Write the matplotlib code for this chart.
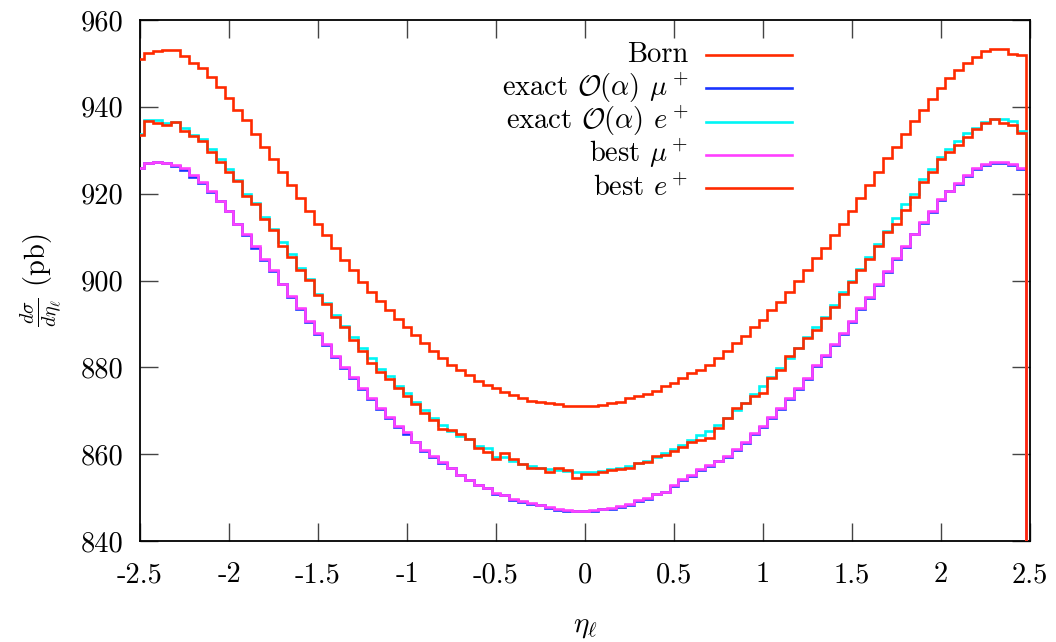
import numpy as np
import matplotlib
matplotlib.use("Agg")
import matplotlib.pyplot as plt

plt.rcParams['font.family'] = 'serif'
plt.rcParams['font.serif'] = ['cmr10']
plt.rcParams['mathtext.fontset'] = 'cm'
plt.rcParams['axes.formatter.use_mathtext'] = True
plt.rcParams['axes.unicode_minus'] = False

# bin positions in eta_l (histogram steps, width 0.05)
eta = np.round(-2.5 + 0.05 * np.arange(100), 3)

born = [951.1, 952.5, 952.8, 953.2, 953.0, 951.8, 950.1, 949.0, 946.8, 944.6,
        942.1, 939.2, 936.9, 933.8, 930.8, 928.0, 925.0, 922.1, 919.0, 916.1,
        913.1, 910.5, 907.6, 904.7, 902.5, 899.7, 897.3, 895.3, 893.2, 891.1,
        889.3, 887.5, 885.5, 883.8, 882.1, 880.6, 879.4, 878.2, 876.9, 875.9,
        875.3, 874.3, 873.6, 872.9, 872.3, 872.1, 871.9, 871.6, 871.2, 871.1,
        871.1, 871.1, 871.3, 871.7, 872.1, 872.9, 873.3, 873.9, 874.6, 875.6,
        876.5, 877.5, 878.6, 879.4, 880.6, 882.1, 883.8, 885.5, 887.3, 889.2,
        890.9, 893.1, 895.1, 897.4, 900.0, 902.4, 905.1, 907.5, 910.5, 912.9,
        916.1, 919.1, 922.1, 924.9, 928.1, 930.8, 933.7, 936.7, 939.2, 941.8,
        944.4, 946.7, 948.4, 950.1, 951.5, 952.8, 953.3, 953.3, 952.1, 951.9]

exact_mu = [925.8, 927.0, 927.3, 927.0, 926.4, 925.5, 923.9, 922.4, 920.4, 918.2,
            915.9, 912.9, 910.4, 907.6, 904.8, 902.2, 899.1, 896.2, 893.4, 890.5,
            887.7, 885.2, 882.3, 879.9, 877.5, 875.0, 872.6, 870.5, 868.3, 866.2,
            864.7, 862.7, 860.8, 859.3, 857.9, 856.7, 855.1, 854.0, 852.9, 852.1,
            850.8, 850.5, 849.5, 849.0, 848.6, 848.2, 847.6, 847.2, 847.0, 846.9,
            846.9, 847.0, 847.3, 847.4, 847.9, 848.4, 849.3, 849.6, 850.8, 851.2,
            852.7, 854.0, 855.0, 856.3, 857.3, 858.4, 859.4, 861.0, 862.6, 864.6,
            866.3, 868.4, 870.4, 872.6, 875.0, 877.3, 880.2, 882.6, 885.2, 887.7,
            890.5, 893.4, 896.0, 898.9, 901.9, 904.9, 907.7, 910.6, 913.3, 915.8,
            918.5, 920.5, 922.2, 924.1, 925.6, 926.6, 927.1, 927.0, 926.5, 925.7]

exact_e = [933.8, 937.0, 936.9, 936.3, 936.6, 935.2, 933.5, 932.6, 930.2, 928.0,
           925.7, 923.2, 920.0, 917.9, 914.7, 911.9, 908.8, 906.0, 902.9, 900.4,
           897.0, 894.9, 892.0, 889.5, 886.9, 884.4, 882.1, 879.6, 877.9, 875.7,
           874.0, 872.0, 870.2, 868.3, 866.7, 865.3, 864.2, 863.4, 861.9, 861.4,
           859.4, 859.4, 858.4, 857.7, 857.3, 856.9, 856.5, 856.4, 856.1, 856.0,
           856.0, 856.0, 856.2, 856.5, 856.9, 857.3, 857.9, 858.4, 859.4, 860.2,
           861.2, 862.0, 863.2, 864.3, 865.4, 866.7, 868.4, 870.2, 871.9, 873.8,
           875.8, 877.8, 879.9, 882.2, 884.5, 886.9, 889.2, 891.7, 894.4, 897.3,
           900.0, 902.6, 905.4, 908.5, 911.5, 914.5, 917.7, 920.0, 923.4, 925.6,
           928.4, 930.3, 932.2, 933.9, 935.2, 936.5, 937.2, 937.3, 936.7, 934.4]

best_mu = [925.8, 927.0, 927.4, 927.1, 926.6, 925.8, 924.2, 922.6, 920.7, 918.4,
           916.1, 913.1, 910.6, 907.9, 905.0, 902.4, 899.3, 896.4, 893.7, 890.7,
           888.0, 885.4, 882.6, 880.1, 877.7, 875.2, 872.9, 870.6, 868.5, 866.5,
           865.0, 862.9, 861.0, 859.6, 858.1, 856.8, 855.2, 854.1, 852.9, 852.3,
           851.0, 850.6, 849.6, 849.1, 848.7, 848.3, 847.8, 847.3, 847.2, 847.0,
           847.0, 847.2, 847.4, 847.6, 848.0, 848.6, 849.4, 849.8, 850.9, 851.4,
           852.9, 854.2, 855.2, 856.5, 857.5, 858.5, 859.6, 861.2, 862.9, 864.8,
           866.5, 868.6, 870.6, 872.9, 875.2, 877.5, 880.5, 882.8, 885.4, 888.0,
           890.7, 893.6, 896.3, 899.1, 902.2, 905.1, 907.9, 910.8, 913.5, 916.1,
           918.7, 920.7, 922.5, 924.3, 925.8, 926.8, 927.2, 927.3, 926.8, 925.8]

best_e = [933.6, 936.7, 936.3, 935.9, 936.6, 934.5, 933.2, 932.2, 929.5, 927.4,
          925.0, 922.9, 919.5, 917.6, 914.1, 911.6, 908.0, 905.5, 902.4, 900.2,
          896.6, 894.6, 891.7, 889.2, 886.4, 883.8, 881.1, 879.0, 877.3, 875.2,
          873.5, 871.6, 869.4, 867.9, 865.9, 865.6, 864.6, 863.4, 861.4, 860.4,
          858.9, 860.2, 858.8, 857.7, 856.9, 856.9, 856.0, 856.8, 856.4, 854.5,
          855.4, 855.5, 855.8, 856.3, 856.6, 856.9, 857.9, 858.1, 859.5, 859.9,
          860.7, 861.7, 862.7, 863.2, 863.8, 866.1, 868.3, 870.6, 871.7, 873.5,
          874.0, 877.5, 879.4, 882.7, 884.4, 886.7, 888.7, 891.3, 894.0, 897.0,
          899.7, 902.4, 904.9, 908.0, 911.1, 912.9, 916.2, 919.3, 922.7, 925.0,
          928.0, 929.5, 931.3, 933.1, 934.8, 936.2, 937.1, 936.2, 935.8, 934.0]

series = [
    ("Born", born, "#ff2a00"),
    (r"exact $\mathcal{O}(\alpha)$ $\mu^+$", exact_mu, "#1a35ff"),
    (r"exact $\mathcal{O}(\alpha)$ $e^+$", exact_e, "#00f5f5"),
    (r"best $\mu^+$", best_mu, "#ff40ff"),
    (r"best $e^+$", best_e, "#ff2a00"),
]

xticks = [-2.5, -2, -1.5, -1, -0.5, 0, 0.5, 1, 1.5, 2, 2.5]
xticklabels = ["-2.5", "-2", "-1.5", "-1", "-0.5", "0", "0.5", "1", "1.5", "2", "2.5"]
yticks = [840, 860, 880, 900, 920, 940, 960]

fig = plt.figure(figsize=(10.56, 6.42), dpi=100)
ax = fig.add_axes([140 / 1056, 1 - 541 / 642, 890 / 1056, 521 / 642])

half = 0.025
edges = np.concatenate([eta - half, [eta[-1] + half]])
for label, vals, col in series:
    ax.stairs(vals, edges, baseline=0, color=col, lw=1.9, zorder=3)

ax.set_xlim(-2.5, 2.5)
ax.set_ylim(840, 960)
ax.set_xticks(xticks)
ax.set_xticklabels(xticklabels)
ax.set_yticks(yticks)
ax.set_yticklabels([str(v) for v in yticks])
ax.tick_params(direction='in', length=13, width=1.0, color='#444444',
               labelsize=20.5, top=True, right=True)
ax.tick_params(axis='x', pad=15)
ax.tick_params(axis='y', pad=12)
for s in ax.spines.values():
    s.set_linewidth(1.3)

ax.set_xlabel(r'$\eta_\ell$', fontsize=21, labelpad=18)
ax.set_ylabel(r'$\frac{d\sigma}{d\eta_\ell}$ (pb)', fontsize=20.5, labelpad=12)

# key: right-aligned text with line samples to its right
x_text = (688 - 140) / 890
x0, x1 = (706 - 140) / 890, (792 - 140) / 890
for i, (label, vals, col) in enumerate(series):
    yl = (541 - 55 - 33.3 * i) / 521
    yb = (541 - 62.5 - 33.3 * i) / 521
    ax.text(x_text, yb, label, transform=ax.transAxes, ha='right', va='baseline',
            fontsize=20.5)
    ax.plot([x0, x1], [yl, yl], transform=ax.transAxes, color=col, lw=1.9,
            clip_on=False)

fig.savefig("out.png", dpi=100)
